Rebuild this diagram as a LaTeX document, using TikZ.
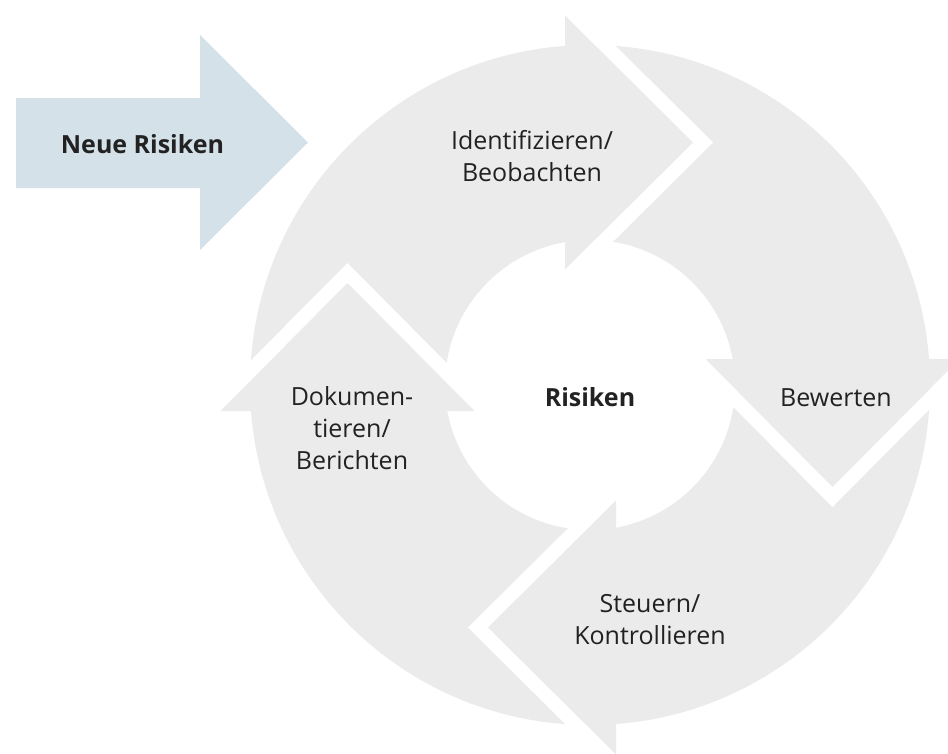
\documentclass[tikz,border=0pt]{standalone}
\usepackage{fontspec}
\setmainfont{Open Sans}
\definecolor{ringgray}{HTML}{EBEBEB}
\definecolor{newblue}{HTML}{D4E1E8}
\definecolor{txt}{HTML}{222222}
\tikzset{
  lbl/.style={inner sep=0pt, text=txt, align=center, font=\fontsize{25}{32}\selectfont},
  lblb/.style={lbl, font=\fontsize{25}{32}\selectfont\bfseries},
  ringfill/.style={fill=ringgray},
  gapfill/.style={fill=white},
}
\begin{document}
\begin{tikzpicture}[x=1pt,y=-1pt]
\useasboundingbox (0,0) rectangle (948,753);
% ring
\fill[ringgray, even odd rule] (590,385) circle (340pt) (590,385) circle (145pt);
% junction top (pointing right)
\fill[gapfill] (565,15.5) -- (585,15.5) -- (713,142.5) -- (585,269.5) -- (565,269.5) -- cycle;
\fill[ringfill] (565,15.5) -- (693,142.5) -- (565,269.5) -- cycle;
% junction right (pointing down)
\fill[gapfill] (705.5,359) -- (705.5,379) -- (832.5,507) -- (959.5,379) -- (959.5,359) -- cycle;
\fill[ringfill] (705.5,359) -- (832.5,487) -- (959.5,359) -- cycle;
% junction bottom (pointing left)
\fill[gapfill] (616,500.5) -- (596,500.5) -- (468,627.5) -- (596,754.5) -- (616,754.5) -- cycle;
\fill[ringfill] (616,500.5) -- (488,627.5) -- (616,754.5) -- cycle;
% junction left (pointing up)
\fill[gapfill] (220.5,411) -- (220.5,391) -- (347.5,263) -- (474.5,391) -- (474.5,411) -- cycle;
\fill[ringfill] (220.5,411) -- (347.5,283) -- (474.5,411) -- cycle;
% new risks arrow
\fill[newblue] (16,98) -- (200,98) -- (200,35) -- (308,142.5) -- (200,250) -- (200,188) -- (16,188) -- cycle;
% labels
\node[lblb, anchor=base] (neu) at (142.5,153) {Neue Risiken};
\node[lbl] (ident) at (532,156.5) {Identifizieren/\\Beobachten};
\node[lbl, anchor=base] (bew) at (836,406) {Bewerten};
\node[lbl] (steu) at (650,619.5) {Steuern/\\Kontrollieren};
\node[lbl] (doku) at (352,428.5) {Dokumen-\\tieren/\\Berichten};
\node[lblb, anchor=base] (ris) at (590,406) {Risiken};
\end{tikzpicture}
\end{document}
